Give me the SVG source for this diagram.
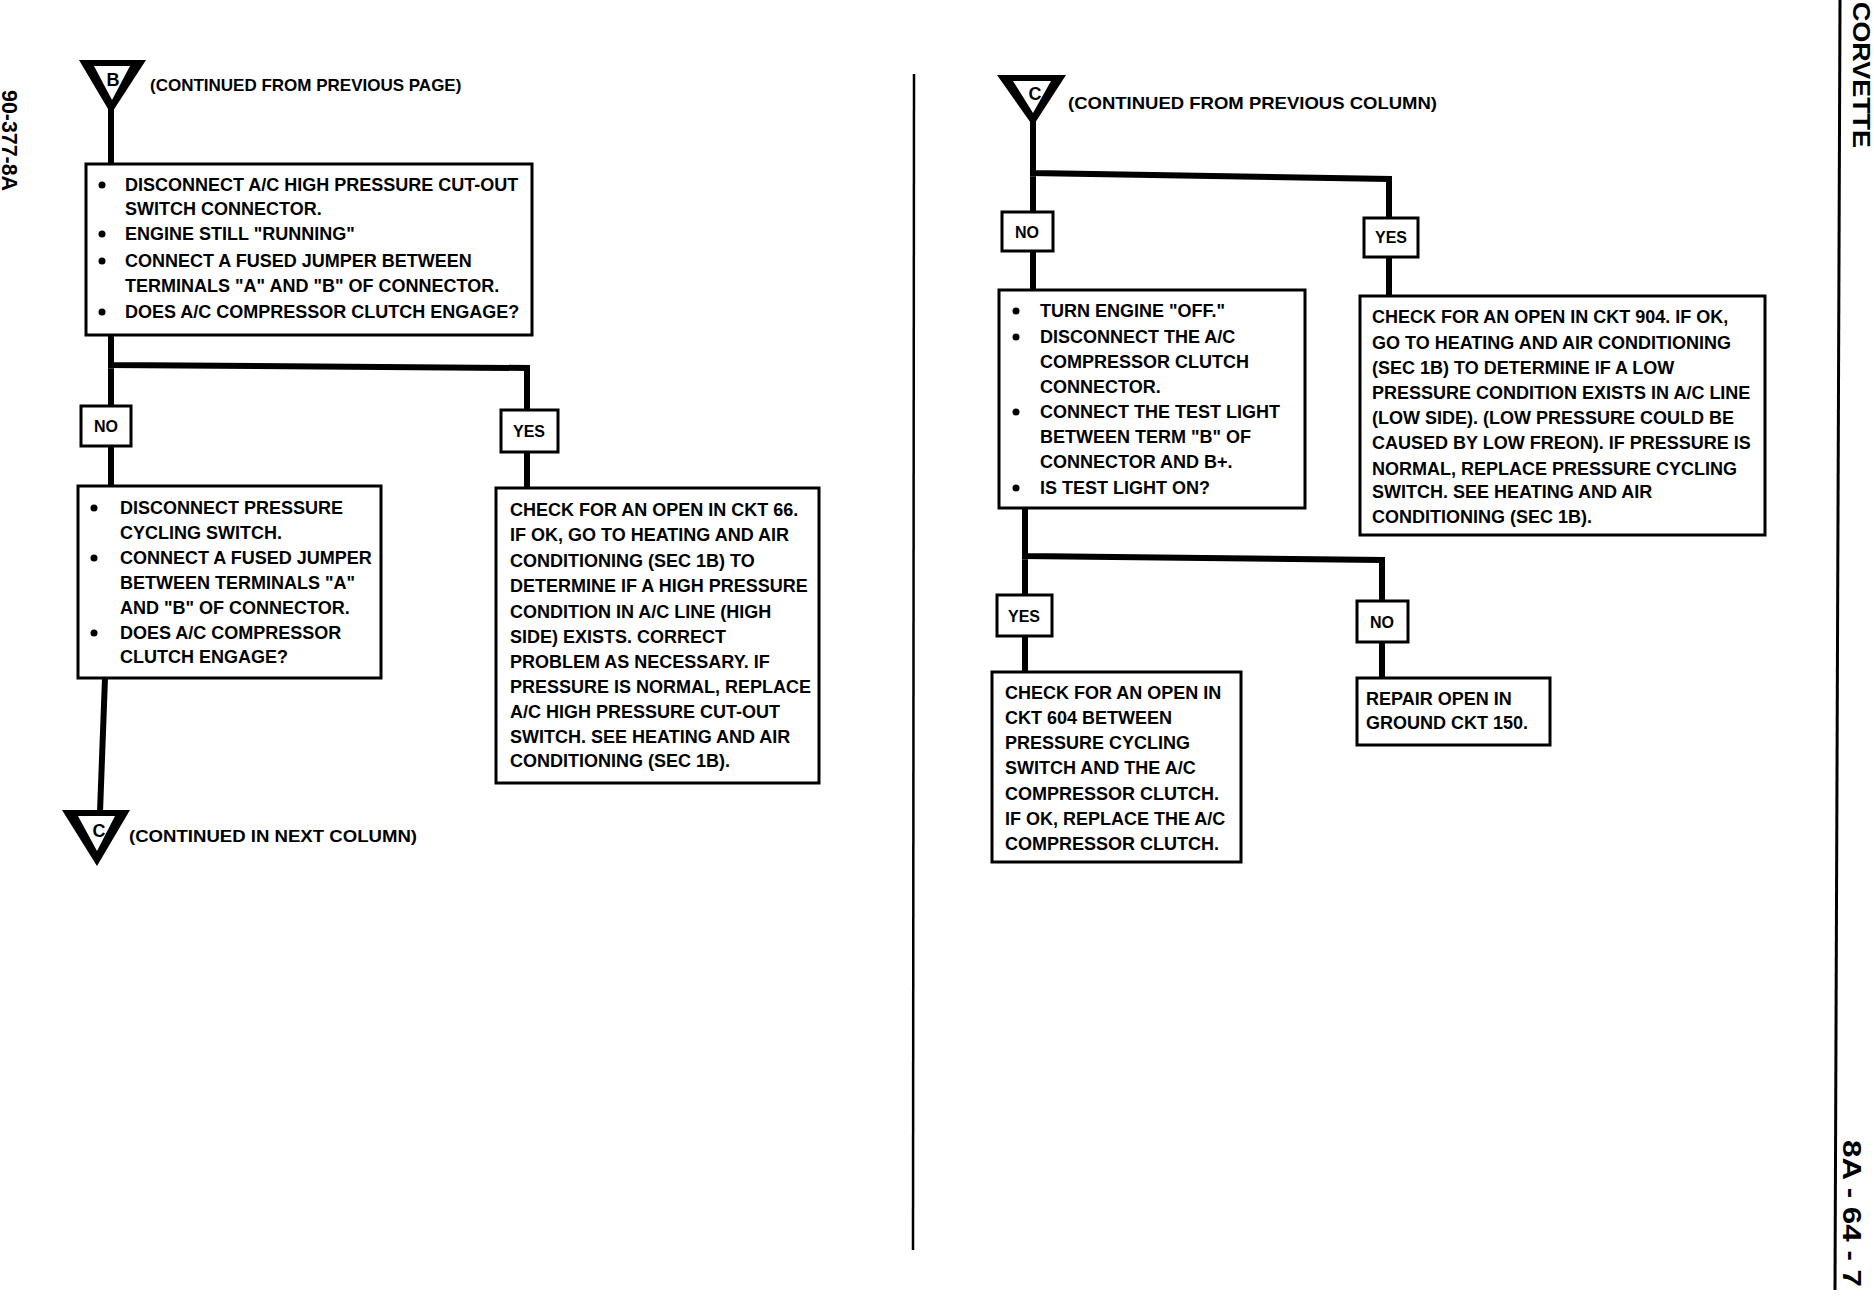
<svg xmlns="http://www.w3.org/2000/svg" width="1874" height="1312" viewBox="0 0 1874 1312">
<style>
.box{fill:#fff;stroke:#000;stroke-width:3}
.ln{stroke:#000;stroke-width:6;fill:none;stroke-linecap:square}
.t{font-family:"Liberation Sans",Arial,sans-serif;font-weight:bold;font-size:18px;fill:#000}
.lbl{font-size:16px;text-anchor:middle}
.hd{font-size:17px}
.tri{fill:#000;fill-rule:evenodd}
.ltr{font-size:18px;text-anchor:middle}
.edge{font-family:"Liberation Sans",Arial,sans-serif;font-weight:bold;fill:#000}
</style>
<rect width="1874" height="1312" fill="#fff"/>

<g id="connectors">
<path class="ln" d="M111,112 V164"/>
<path class="ln" d="M111,335 V406 M111,365 L527,368 V410 M111,446 V486"/>
<path class="ln" d="M527,452 V488"/>
<path class="ln" d="M105,678 L100,812"/>
<path class="ln" d="M1033,124 V212 M1033,173 L1389,179 V218 M1033,251 V290"/>
<path class="ln" d="M1389,257 V296"/>
<path class="ln" d="M1025,508 V595 M1025,556 L1382,560 V601 M1025,636 V672"/>
<path class="ln" d="M1382,642 V678"/>
</g>

<g id="divider"><line x1="914" y1="74" x2="913" y2="1250" stroke="#000" stroke-width="2.5"/></g>

<g id="edge-texts">
<text class="edge" font-size="22" transform="translate(2,90) rotate(90)" textLength="101" lengthAdjust="spacingAndGlyphs">90-377-8A</text>
<line x1="1840" y1="0" x2="1835" y2="1290" stroke="#000" stroke-width="3"/>
<text class="edge" font-size="24" transform="translate(1853,2) rotate(90)" textLength="146" lengthAdjust="spacingAndGlyphs">CORVETTE</text>
<text class="edge" font-size="26" transform="translate(1843,1140) rotate(90)" textLength="147" lengthAdjust="spacingAndGlyphs">8A - 64 - 7</text>
</g>

<g id="start-B">
<path class="tri" d="M79,60 L146,60 L111,114 Z M94,66 L130,66 L112,100 Z"/>
<text class="t ltr" x="113" y="86">B</text>
<text class="t hd" x="150" y="91">(CONTINUED FROM PREVIOUS PAGE)</text>
</g>

<g id="box1">
<rect class="box" x="86" y="164" width="446" height="171"/>
<circle cx="102" cy="185" r="3.5"/><circle cx="102" cy="234" r="3.5"/><circle cx="102" cy="261" r="3.5"/><circle cx="102" cy="312" r="3.5"/>
<text class="t" x="125" y="191">DISCONNECT A/C HIGH PRESSURE CUT-OUT</text>
<text class="t" x="125" y="215">SWITCH CONNECTOR.</text>
<text class="t" x="125" y="240">ENGINE STILL "RUNNING"</text>
<text class="t" x="125" y="267">CONNECT A FUSED JUMPER BETWEEN</text>
<text class="t" x="125" y="292">TERMINALS "A" AND "B" OF CONNECTOR.</text>
<text class="t" x="125" y="318">DOES A/C COMPRESSOR CLUTCH ENGAGE?</text>
</g>

<g id="no1">
<rect class="box" x="81" y="406" width="50" height="40"/>
<text class="t lbl" x="106" y="432">NO</text>
</g>

<g id="yes1">
<rect class="box" x="501" y="410" width="57" height="42"/>
<text class="t lbl" x="529" y="437">YES</text>
</g>

<g id="box2">
<rect class="box" x="78" y="486" width="303" height="192"/>
<circle cx="94" cy="508" r="3.5"/><circle cx="94" cy="558" r="3.5"/><circle cx="94" cy="633" r="3.5"/>
<text class="t" x="120" y="514">DISCONNECT PRESSURE</text>
<text class="t" x="120" y="539">CYCLING SWITCH.</text>
<text class="t" x="120" y="564">CONNECT A FUSED JUMPER</text>
<text class="t" x="120" y="589">BETWEEN TERMINALS "A"</text>
<text class="t" x="120" y="614">AND "B" OF CONNECTOR.</text>
<text class="t" x="120" y="639">DOES A/C COMPRESSOR</text>
<text class="t" x="120" y="663">CLUTCH ENGAGE?</text>
</g>

<g id="box3">
<rect class="box" x="496" y="488" width="323" height="295"/>
<text class="t" x="510" y="516">CHECK FOR AN OPEN IN CKT 66.</text>
<text class="t" x="510" y="541">IF OK, GO TO HEATING AND AIR</text>
<text class="t" x="510" y="567">CONDITIONING (SEC 1B) TO</text>
<text class="t" x="510" y="592">DETERMINE IF A HIGH PRESSURE</text>
<text class="t" x="510" y="618">CONDITION IN A/C LINE (HIGH</text>
<text class="t" x="510" y="643">SIDE) EXISTS.  CORRECT</text>
<text class="t" x="510" y="668">PROBLEM AS NECESSARY.  IF</text>
<text class="t" x="510" y="693">PRESSURE IS NORMAL, REPLACE</text>
<text class="t" x="510" y="718">A/C HIGH PRESSURE CUT-OUT</text>
<text class="t" x="510" y="743">SWITCH.  SEE HEATING AND AIR</text>
<text class="t" x="510" y="767">CONDITIONING (SEC 1B).</text>
</g>

<g id="end-C">
<path class="tri" d="M62,810 L130,810 L97,866 Z M78,816 L115,816 L97,851 Z"/>
<text class="t ltr" x="99" y="837">C</text>
<text class="t hd" x="129" y="842" textLength="288" lengthAdjust="spacingAndGlyphs">(CONTINUED IN NEXT COLUMN)</text>
</g>

<g id="start-C">
<path class="tri" d="M997,75 L1066,75 L1033,126 Z M1013,81 L1051,81 L1033,113 Z"/>
<text class="t ltr" x="1035" y="100">C</text>
<text class="t hd" x="1068" y="109" textLength="369" lengthAdjust="spacingAndGlyphs">(CONTINUED FROM PREVIOUS COLUMN)</text>
</g>

<g id="no2">
<rect class="box" x="1002" y="212" width="51" height="39"/>
<text class="t lbl" x="1027" y="238">NO</text>
</g>

<g id="yes2">
<rect class="box" x="1364" y="218" width="54" height="39"/>
<text class="t lbl" x="1391" y="243">YES</text>
</g>

<g id="box4">
<rect class="box" x="999" y="290" width="306" height="218"/>
<circle cx="1016" cy="311" r="3.5"/><circle cx="1016" cy="337" r="3.5"/><circle cx="1016" cy="412" r="3.5"/><circle cx="1016" cy="488" r="3.5"/>
<text class="t" x="1040" y="317">TURN ENGINE "OFF."</text>
<text class="t" x="1040" y="343">DISCONNECT THE A/C</text>
<text class="t" x="1040" y="368">COMPRESSOR CLUTCH</text>
<text class="t" x="1040" y="393">CONNECTOR.</text>
<text class="t" x="1040" y="418">CONNECT THE TEST LIGHT</text>
<text class="t" x="1040" y="443">BETWEEN TERM "B" OF</text>
<text class="t" x="1040" y="468">CONNECTOR AND B+.</text>
<text class="t" x="1040" y="494">IS TEST LIGHT ON?</text>
</g>

<g id="box5">
<rect class="box" x="1360" y="296" width="405" height="239"/>
<text class="t" x="1372" y="323">CHECK FOR AN OPEN IN CKT 904.  IF OK,</text>
<text class="t" x="1372" y="349">GO TO HEATING AND AIR CONDITIONING</text>
<text class="t" x="1372" y="374">(SEC 1B) TO DETERMINE IF A LOW</text>
<text class="t" x="1372" y="399">PRESSURE CONDITION EXISTS IN A/C LINE</text>
<text class="t" x="1372" y="424">(LOW SIDE).  (LOW PRESSURE COULD BE</text>
<text class="t" x="1372" y="449">CAUSED BY LOW FREON).  IF PRESSURE IS</text>
<text class="t" x="1372" y="475">NORMAL, REPLACE PRESSURE CYCLING</text>
<text class="t" x="1372" y="498">SWITCH.  SEE HEATING AND AIR</text>
<text class="t" x="1372" y="523">CONDITIONING (SEC 1B).</text>
</g>

<g id="yes3">
<rect class="box" x="997" y="595" width="55" height="41"/>
<text class="t lbl" x="1024" y="622">YES</text>
</g>

<g id="no3">
<rect class="box" x="1357" y="601" width="51" height="41"/>
<text class="t lbl" x="1382" y="628">NO</text>
</g>

<g id="box6">
<rect class="box" x="992" y="672" width="249" height="190"/>
<text class="t" x="1005" y="699">CHECK FOR AN OPEN IN</text>
<text class="t" x="1005" y="724">CKT 604 BETWEEN</text>
<text class="t" x="1005" y="749">PRESSURE CYCLING</text>
<text class="t" x="1005" y="774">SWITCH AND THE A/C</text>
<text class="t" x="1005" y="800">COMPRESSOR CLUTCH.</text>
<text class="t" x="1005" y="825">IF OK, REPLACE THE A/C</text>
<text class="t" x="1005" y="850">COMPRESSOR CLUTCH.</text>
</g>

<g id="box7">
<rect class="box" x="1357" y="678" width="193" height="67"/>
<text class="t" x="1366" y="705">REPAIR OPEN IN</text>
<text class="t" x="1366" y="729">GROUND CKT 150.</text>
</g>
</svg>
